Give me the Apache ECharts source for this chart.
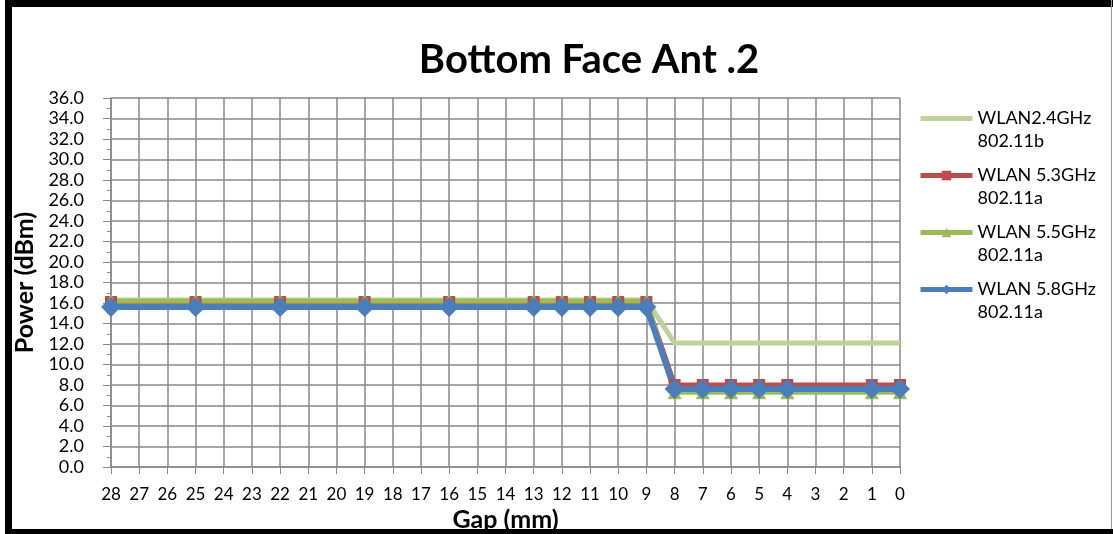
<!DOCTYPE html>
<html>
<head>
<meta charset="utf-8">
<script src="https://cdn.jsdelivr.net/npm/echarts@6/dist/echarts.min.js"></script>
<style>
  html, body { margin: 0; padding: 0; background: #fff; }
  #chart { width: 1113px; height: 534px; }
</style>
</head>
<body>
<div id="chart"></div>
<script>
// gap in mm, from 28 down to 0
const gapLabels = ['28','27','26','25','24','23','22','21','20','19','18','17','16','15','14','13','12','11','10','9','8','7','6','5','4','3','2','1','0'];
const yTicks = [0, 36, 2]; // min, max, step

// null = not measured at that gap (line is connected across)
const _ = null;
const wlan24 = [16.3,_,_,16.3,_,_,16.3,_,_,16.3,_,_,16.3,_,_,16.3,16.3,16.3,16.3,16.3,12.1,12.1,12.1,12.1,12.1,_,_,12.1,12.1];
const wlan53 = [16.1,_,_,16.1,_,_,16.1,_,_,16.1,_,_,16.1,_,_,16.1,16.1,16.1,16.1,16.1,8.0,8.0,8.0,8.0,8.0,_,_,8.0,8.0];
const wlan55 = [16.2,_,_,16.2,_,_,16.2,_,_,16.2,_,_,16.2,_,_,16.2,16.2,16.2,16.2,16.2,7.3,7.3,7.3,7.3,7.3,_,_,7.3,7.3];
const wlan58 = [15.6,_,_,15.6,_,_,15.6,_,_,15.6,_,_,15.6,_,_,15.6,15.6,15.6,15.6,15.6,7.6,7.6,7.6,7.6,7.6,_,_,7.6,7.6];

const seriesNames = ['WLAN2.4GHz\n802.11b', 'WLAN 5.3GHz\n802.11a', 'WLAN 5.5GHz\n802.11a', 'WLAN 5.8GHz\n802.11a'];

const font = 'Lato, "Open Sans", sans-serif';
const gridColor = '#898989';

const chart = echarts.init(document.getElementById('chart'), null, { renderer: 'canvas' });

function line(name, data, color, symbol, size, width) {
    return {
        name: name,
        type: 'line',
        data: data,
        connectNulls: true,
        symbol: symbol,
        symbolSize: size,
        showSymbol: symbol !== 'none',
        lineStyle: { color: color, width: width },
        itemStyle: { color: color },
        emphasis: { disabled: true },
        animation: false
    };
}

chart.setOption({
    backgroundColor: '#fff',
    animation: false,
    title: {
        text: 'Bottom Face Ant .2',
        left: 589,
        textAlign: 'center',
        top: 40,
        padding: 0,
        textStyle: { fontFamily: font, fontSize: 40, fontWeight: 'bold', color: '#000' }
    },
    legend: {
        orient: 'vertical',
        left: 918,
        top: 84,
        padding: 0,
        itemWidth: 52,
        itemHeight: 12,
        itemGap: -12,
        selectedMode: false,
        lineStyle: { width: 5 },
        // blank first line so the icon sits next to the first text line
        formatter: name => ' \n' + name,
        textStyle: { fontFamily: font, fontSize: 18, color: '#000', lineHeight: 23 },
        data: [
            { name: seriesNames[0], itemStyle: { opacity: 0 } },
            seriesNames[1],
            seriesNames[2],
            seriesNames[3]
        ]
    },
    grid: { left: 111, right: 213, top: 98, bottom: 67, outerBoundsMode: 'none' },
    xAxis: {
        type: 'category',
        data: gapLabels,
        boundaryGap: false,
        name: 'Gap (mm)',
        nameLocation: 'middle',
        nameGap: 35,
        nameTextStyle: { fontFamily: font, fontSize: 25, fontWeight: 'bold', color: '#000' },
        axisLine: { lineStyle: { color: gridColor, width: 1.5 } },
        axisTick: { show: true, length: 7, interval: 0, lineStyle: { color: gridColor } },
        axisLabel: { interval: 0, margin: 19, fontFamily: font, fontSize: 17, color: '#000' },
        splitLine: { show: true, interval: 0, lineStyle: { color: gridColor, width: 1.5 } }
    },
    yAxis: {
        type: 'value',
        min: yTicks[0],
        max: yTicks[1],
        interval: yTicks[2],
        name: 'Power (dBm)',
        nameLocation: 'middle',
        nameGap: 63,
        nameTextStyle: { fontFamily: font, fontSize: 25, fontWeight: 'bold', color: '#000' },
        axisLine: { show: true, lineStyle: { color: gridColor, width: 1.5 } },
        axisTick: { show: true, length: 8, lineStyle: { color: gridColor } },
        minorTick: { show: true, splitNumber: 2, length: 4, lineStyle: { color: gridColor } },
        axisLabel: { margin: 27, fontFamily: font, fontSize: 18, color: '#000', formatter: v => v.toFixed(1) },
        splitLine: { show: true, lineStyle: { color: gridColor, width: 1.5 } }
    },
    series: [
        line(seriesNames[0], wlan24, '#BBD39A', 'none', 0, 5),
        line(seriesNames[1], wlan53, '#BE4B48', 'rect', 12, 5),
        line(seriesNames[2], wlan55, '#9BBB59', 'triangle', 14, 5),
        line(seriesNames[3], wlan58, '#4A7EBB', 'diamond', 20, 6)
    ],
    graphic: [
        { type: 'rect', shape: { x: 5, y: 0, width: 7, height: 534 }, style: { fill: '#000' }, silent: true },
        { type: 'rect', shape: { x: 5, y: 0, width: 1108, height: 7 }, style: { fill: '#000' }, silent: true },
        { type: 'rect', shape: { x: 5, y: 529, width: 1108, height: 5 }, style: { fill: '#000' }, silent: true },
        { type: 'rect', shape: { x: 1111, y: 0, width: 1, height: 529 }, style: { fill: '#999' }, silent: true }
    ]
});
</script>
</body>
</html>
